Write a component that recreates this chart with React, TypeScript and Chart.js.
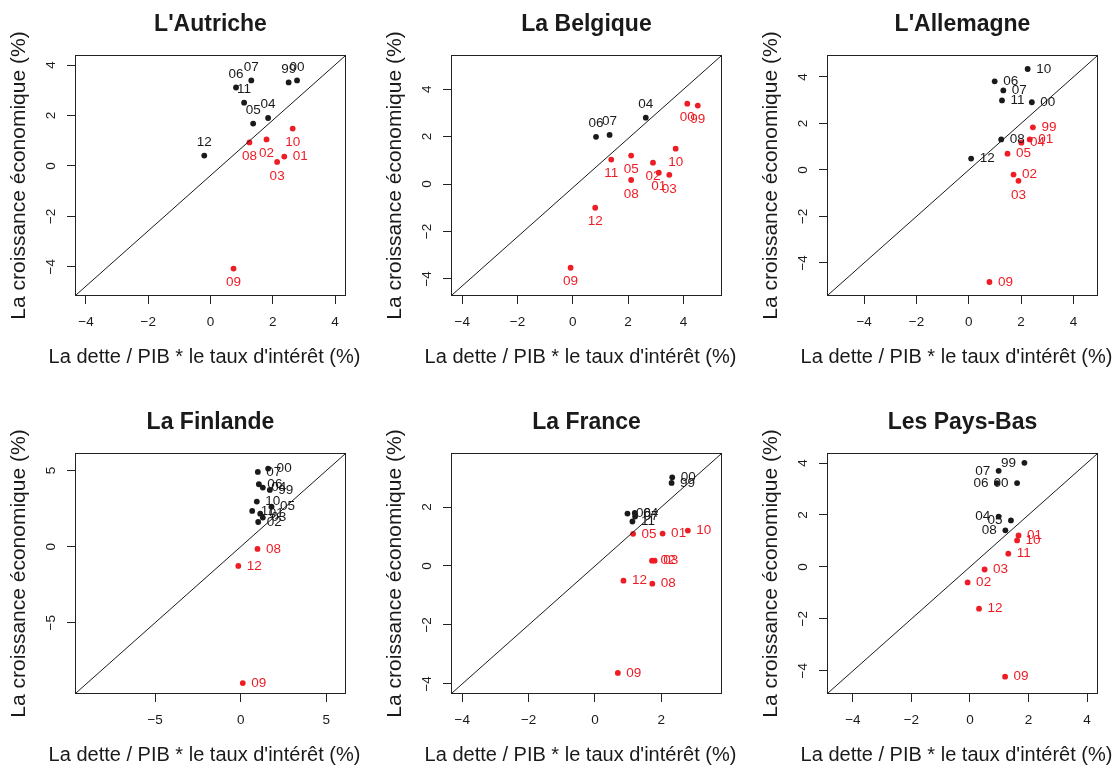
import React, { useEffect, useRef } from 'react';
import { Chart, registerables } from 'chart.js';

Chart.register(...registerables);

// ---------- DATA ----------
const YEARS = ['99', '00', '01', '02', '03', '04', '05', '06', '07', '08', '09', '10', '11', '12'];

// L'Autriche
const AT_DEBT_RATE = [2.51, 2.78, 2.37, 1.80, 2.14, 1.85, 1.37, 0.82, 1.31, 1.25, 0.74, 2.64, 1.08, -0.20];
const AT_GROWTH = [3.31, 3.39, 0.37, 1.05, 0.16, 1.90, 1.68, 3.11, 3.39, 0.93, -4.07, 1.48, 2.51, 0.41];

// La Belgique
const BE_DEBT_RATE = [4.52, 4.14, 3.11, 2.90, 3.49, 2.64, 2.11, 0.84, 1.33, 2.11, -0.08, 3.72, 1.39, 0.81];
const BE_GROWTH = [3.31, 3.39, 0.48, 0.90, 0.39, 2.80, 1.20, 1.99, 2.07, 0.17, -3.53, 1.49, 1.03, -1.00];

// L'Allemagne
const DE_DEBT_RATE = [2.45, 2.41, 2.33, 1.71, 1.90, 2.01, 1.48, 0.99, 1.32, 1.24, 0.79, 2.25, 1.27, 0.09];
const DE_GROWTH = [1.83, 2.91, 1.31, -0.20, -0.47, 1.17, 0.70, 3.81, 3.42, 1.31, -4.82, 4.34, 2.99, 0.49];

// La Finlande
const FI_DEBT_RATE = [1.70, 1.60, 1.14, 1.02, 1.29, 1.29, 1.80, 1.06, 1.00, 0.98, 0.12, 0.94, 0.67, -0.14];
const FI_GROWTH = [3.73, 5.13, 2.17, 1.62, 1.91, 3.88, 2.63, 4.10, 4.91, -0.15, -8.97, 2.96, 2.35, -1.27];

// La France
const FR_DEBT_RATE = [2.31, 2.33, 2.04, 1.72, 1.80, 1.20, 1.15, 0.98, 1.21, 1.73, 0.69, 2.80, 1.13, 0.86];
const FR_GROWTH = [2.82, 3.01, 1.10, 0.18, 0.18, 1.80, 1.09, 1.78, 1.68, -0.60, -3.63, 1.20, 1.51, -0.50];

// Les Pays-Bas
const NL_DEBT_RATE = [1.86, 1.61, 1.66, -0.08, 0.50, 0.98, 1.40, 0.92, 0.98, 1.21, 1.20, 1.61, 1.31, 0.31];
const NL_GROWTH = [4.01, 3.23, 1.21, -0.60, -0.10, 1.94, 1.79, 3.23, 3.70, 1.41, -4.23, 1.02, 0.51, -1.61];

// Tick values
const TICKS_STD = [-4, -2, 0, 2, 4];
const TICKS_FI = [-5, 0, 5];
const TICKS_FR = [-4, -2, 0, 2];

// ---------- STYLE / LAYOUT ----------
const T = 'top', B = 'bottom', R = 'right', L = 'left';
const AT_LABEL_POS = [T, T, R, B, B, T, T, T, T, B, B, B, T, T];
const BE_LABEL_POS = [B, B, B, B, B, T, B, T, T, B, B, B, B, B];
const DE_LABEL_POS = [R, R, R, R, B, R, R, R, R, R, R, R, R, R];
const FI_LABEL_POS = [R, R, R, R, R, R, R, R, R, R, R, R, R, R];
const FR_LABEL_POS = [R, R, R, R, R, R, R, R, R, R, R, R, R, R];
const NL_LABEL_POS = [L, L, R, R, R, L, L, L, L, L, R, R, R, R];

const FONT = "'Liberation Sans', Arial, Helvetica, sans-serif";
const BLACK = '#1a1a1a';
const RED = '#ee1c25';
const CANVAS_H = 369;
const AREA = { left: 76, top: 56, right: 345, bottom: 295 };

const X_TITLE = "La dette / PIB * le taux d'intérêt (%)";
const Y_TITLE = 'La croissance économique (%)';

type PanelCfg = {
  title: string;
  x: number[];
  y: number[];
  pos: string[];
  xr: [number, number];
  yr: [number, number];
  xt: number[];
  yt: number[];
  row: number;
  col: number;
};

const PANELS: PanelCfg[] = [
  { title: "L'Autriche", x: AT_DEBT_RATE, y: AT_GROWTH, pos: AT_LABEL_POS, xr: [-4.32, 4.32], yr: [-5.12, 4.36], xt: TICKS_STD, yt: TICKS_STD, row: 0, col: 0 },
  { title: 'La Belgique', x: BE_DEBT_RATE, y: BE_GROWTH, pos: BE_LABEL_POS, xr: [-4.37, 5.36], yr: [-4.68, 5.40], xt: TICKS_STD, yt: TICKS_STD, row: 0, col: 1 },
  { title: "L'Allemagne", x: DE_DEBT_RATE, y: DE_GROWTH, pos: DE_LABEL_POS, xr: [-5.38, 4.9], yr: [-5.38, 4.9], xt: TICKS_STD, yt: TICKS_STD, row: 0, col: 2 },
  { title: 'La Finlande', x: FI_DEBT_RATE, y: FI_GROWTH, pos: FI_LABEL_POS, xr: [-9.62, 6.09], yr: [-9.62, 6.09], xt: TICKS_FI, yt: TICKS_FI, row: 1, col: 0 },
  { title: 'La France', x: FR_DEBT_RATE, y: FR_GROWTH, pos: FR_LABEL_POS, xr: [-4.31, 3.8], yr: [-4.31, 3.8], xt: TICKS_FR, yt: TICKS_FR, row: 1, col: 1 },
  { title: 'Les Pays-Bas', x: NL_DEBT_RATE, y: NL_GROWTH, pos: NL_LABEL_POS, xr: [-4.85, 4.34], yr: [-4.86, 4.35], xt: TICKS_STD, yt: TICKS_STD, row: 1, col: 2 },
];

const fmt = (v: number) => (v < 0 ? '\u2212' + Math.abs(v) : String(v));

function Panel({ cfg }: { cfg: PanelCfg }) {
  const ref = useRef<HTMLCanvasElement>(null);
  const canvasW = cfg.col === 2 ? 360 : 376;

  useEffect(() => {
    const canvas = ref.current;
    if (!canvas) return;

    const pts = cfg.x.map((xv, i) => ({ x: xv, y: cfg.y[i] }));
    const colors = pts.map((p) => (p.y > p.x ? BLACK : RED));

    const decor = {
      id: 'decor',
      afterDatasetsDraw(chart: any) {
        const ctx = chart.ctx;
        const meta = chart.getDatasetMeta(1);
        ctx.save();
        ctx.font = `13.5px ${FONT}`;
        meta.data.forEach((el: any, i: number) => {
          const p = cfg.pos[i];
          ctx.fillStyle = colors[i];
          let tx = el.x, ty = el.y;
          ctx.textBaseline = 'middle';
          if (p === 'top') { ctx.textAlign = 'center'; ty -= 13.5; }
          else if (p === 'bottom') { ctx.textAlign = 'center'; ty += 14; }
          else if (p === 'right') { ctx.textAlign = 'left'; tx += 8.5; }
          else { ctx.textAlign = 'right'; tx -= 8.5; }
          ctx.fillText(YEARS[i], tx, ty);
        });
        ctx.restore();
      },
      afterDraw(chart: any) {
        const ctx = chart.ctx;
        const a = chart.chartArea;
        const xs = chart.scales.x;
        const ys = chart.scales.y;
        const cx = (a.left + a.right) / 2;
        ctx.save();
        // box
        ctx.strokeStyle = '#222';
        ctx.lineWidth = 1;
        ctx.strokeRect(a.left - 0.5, a.top - 0.5, a.right - a.left + 1, a.bottom - a.top + 1);
        // tick labels
        ctx.fillStyle = BLACK;
        ctx.font = `13.5px ${FONT}`;
        ctx.textAlign = 'center';
        ctx.textBaseline = 'middle';
        cfg.xt.forEach((v) => {
          ctx.fillText(fmt(v), xs.getPixelForValue(v), a.bottom + 27);
        });
        cfg.yt.forEach((v) => {
          ctx.save();
          ctx.translate(a.left - 25, ys.getPixelForValue(v));
          ctx.rotate(-Math.PI / 2);
          ctx.fillText(fmt(v), 0, 0);
          ctx.restore();
        });
        // title
        ctx.font = `bold 23px ${FONT}`;
        ctx.textBaseline = 'alphabetic';
        ctx.fillText(cfg.title, cx, a.top - 25);
        // axis titles
        ctx.font = `20px ${FONT}`;
        ctx.textBaseline = 'middle';
        ctx.fillText(X_TITLE, cx - 6, a.bottom + 62.5);
        ctx.font = `21px ${FONT}`;
        ctx.save();
        ctx.translate(a.left - 57, (a.top + a.bottom) / 2);
        ctx.rotate(-Math.PI / 2);
        ctx.fillText(Y_TITLE, 0, 0);
        ctx.restore();
        ctx.restore();
      },
    };

    const axisBase = (range: [number, number], ticks: number[], horizontal: boolean) => ({
      type: 'linear' as const,
      min: range[0],
      max: range[1],
      afterBuildTicks: (s: any) => {
        s.ticks = ticks.map((v) => ({ value: v }));
      },
      afterFit: (s: any) => {
        if (horizontal) s.height = 0;
        else s.width = 0;
      },
      ticks: { display: false },
      grid: { drawOnChartArea: false, drawTicks: true, tickLength: 9, color: '#222', lineWidth: 1 },
      border: { display: false },
    });

    const chart = new Chart(canvas, {
      type: 'scatter',
      data: {
        datasets: [
          {
            data: [
              { x: cfg.xr[0], y: cfg.yr[0] },
              { x: cfg.xr[1], y: cfg.yr[1] },
            ],
            showLine: true,
            borderColor: BLACK,
            borderWidth: 1,
            pointRadius: 0,
            fill: false,
          },
          {
            data: pts,
            backgroundColor: colors,
            borderWidth: 0,
            pointRadius: 2.9,
          },
        ],
      },
      options: {
        responsive: false,
        animation: false,
        events: [],
        layout: {
          padding: {
            left: AREA.left,
            top: AREA.top,
            right: canvasW - AREA.right,
            bottom: CANVAS_H - AREA.bottom,
          },
        },
        plugins: {
          legend: { display: false },
          tooltip: { enabled: false },
          title: { display: false },
        },
        scales: {
          x: axisBase(cfg.xr, cfg.xt, true),
          y: axisBase(cfg.yr, cfg.yt, false),
        },
      } as any,
      plugins: [decor],
    });

    return () => chart.destroy();
  }, [cfg, canvasW]);

  return (
    <canvas
      ref={ref}
      width={canvasW}
      height={CANVAS_H}
      style={{ position: 'absolute', left: cfg.col * 376, top: cfg.row * 398, width: canvasW, height: CANVAS_H }}
    />
  );
}

export default function App() {
  return (
    <div style={{ position: 'fixed', left: 0, top: 0, width: 1112, height: 767, overflow: 'hidden', background: '#fff' }}>
      {PANELS.map((p) => (
        <Panel key={p.title} cfg={p} />
      ))}
    </div>
  );
}
